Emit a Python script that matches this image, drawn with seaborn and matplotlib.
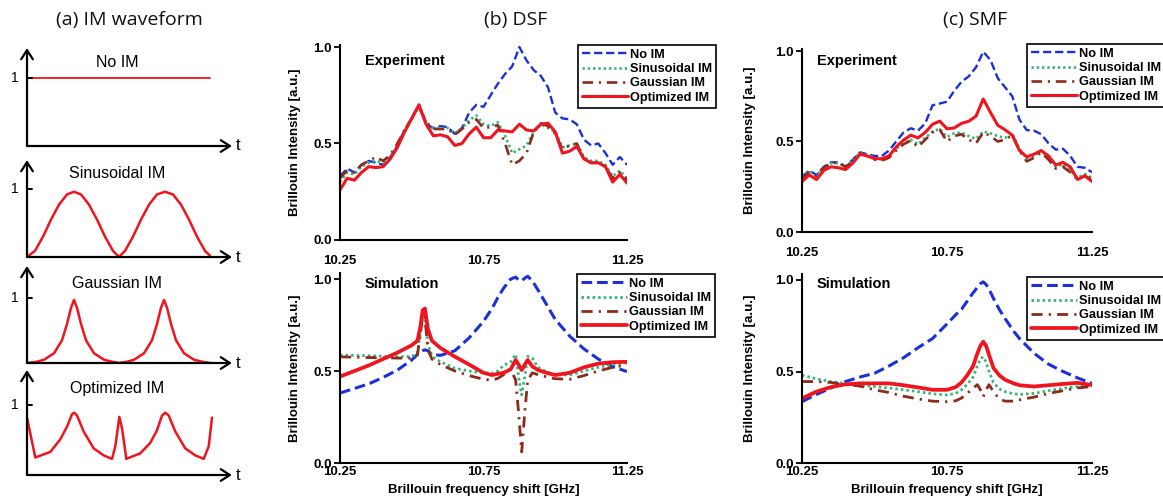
import numpy as np
import pandas as pd
import matplotlib
matplotlib.use("Agg")
import matplotlib.pyplot as plt
import seaborn as sns

sns.set_theme(style="white")
plt.rcParams["font.family"] = ["Liberation Sans", "DejaVu Sans"]
plt.rcParams["text.color"] = "black"

# ---------------- data ----------------
series_names = ["No IM", "Sinusoidal IM", "Gaussian IM", "Optimized IM"]

# (a) IM waveforms (time in arbitrary units, amplitude normalised)
wave_t_noim = [0, 183]
wave_noim = [1.0, 1.0]
wave_t_sin = [0, 8, 16, 24, 32, 40, 47, 54, 62, 70, 78, 86, 92, 98, 106, 114, 122, 130, 138, 146, 154, 162, 170, 178, 183]
wave_sin = [0.0, 0.09, 0.3, 0.55, 0.77, 0.92, 0.96, 0.92, 0.77, 0.55, 0.3, 0.09, 0.0, 0.09, 0.3, 0.55, 0.77, 0.92, 0.96, 0.92, 0.77, 0.55, 0.3, 0.09, 0.02]
wave_t_gau = [0, 10, 17, 27, 35, 40, 44, 47, 50, 54, 59, 67, 77, 85, 92, 100, 107, 117, 125, 130, 134, 137, 140, 144, 149, 157, 167, 175, 183]
wave_gau = [0.0, 0.02, 0.05, 0.15, 0.35, 0.6, 0.85, 0.97, 0.85, 0.6, 0.35, 0.15, 0.05, 0.02, 0.0, 0.02, 0.05, 0.15, 0.35, 0.6, 0.85, 0.97, 0.85, 0.6, 0.35, 0.15, 0.05, 0.02, 0.0]
wave_t_opt = [0, 8.3, 23.3, 33.3, 40, 45, 47.3, 50, 56.7, 66.7, 76.7, 85, 88.3, 92.3, 95, 99.3, 113.3, 123.3, 130, 135, 138.3, 141.7, 148.3, 158.3, 168.3, 176.7, 181.7, 185]
wave_opt = [0.82, 0.25, 0.33, 0.51, 0.69, 0.87, 0.89, 0.85, 0.62, 0.38, 0.28, 0.23, 0.41, 0.83, 0.67, 0.23, 0.31, 0.46, 0.64, 0.85, 0.89, 0.85, 0.62, 0.38, 0.28, 0.23, 0.41, 0.82]
wave_titles = ["No IM", "Sinusoidal IM", "Gaussian IM", "Optimized IM"]

x_ticks = [10.25, 10.75, 11.25]
y_ticks = [0.0, 0.5, 1.0]

# (b) DSF experiment
dsf_exp_f = [10.25, 10.275, 10.3, 10.325, 10.35, 10.375, 10.4, 10.425, 10.45, 10.475, 10.5, 10.525, 10.55, 10.575,
             10.6, 10.625, 10.65, 10.675, 10.7, 10.725, 10.75, 10.775, 10.8, 10.825, 10.85, 10.875, 10.9, 10.925,
             10.95, 10.975, 11.0, 11.025, 11.05, 11.075, 11.1, 11.125, 11.15, 11.175, 11.2, 11.225, 11.25]
dsf_exp_noim = [0.33, 0.37, 0.35, 0.39, 0.41, 0.40, 0.39, 0.43, 0.49, 0.57, 0.63, 0.70, 0.60, 0.58, 0.59, 0.585, 0.55,
                0.58, 0.66, 0.70, 0.69, 0.75, 0.81, 0.86, 0.90, 1.00, 0.93, 0.88, 0.85, 0.79, 0.66, 0.63, 0.625, 0.60,
                0.52, 0.49, 0.50, 0.45, 0.39, 0.43, 0.39]
dsf_exp_sin = [0.30, 0.35, 0.34, 0.38, 0.40, 0.41, 0.40, 0.43, 0.49, 0.57, 0.63, 0.70, 0.61, 0.575, 0.58, 0.58, 0.555,
               0.58, 0.62, 0.645, 0.60, 0.59, 0.61, 0.54, 0.45, 0.47, 0.49, 0.56, 0.60, 0.58, 0.56, 0.48, 0.49, 0.50,
               0.43, 0.41, 0.41, 0.39, 0.33, 0.36, 0.32]
dsf_exp_gau = [0.32, 0.36, 0.35, 0.39, 0.41, 0.43, 0.41, 0.44, 0.50, 0.57, 0.63, 0.69, 0.61, 0.575, 0.575, 0.575, 0.545,
               0.575, 0.61, 0.625, 0.58, 0.585, 0.595, 0.50, 0.39, 0.41, 0.45, 0.56, 0.605, 0.59, 0.55, 0.47, 0.49,
               0.50, 0.42, 0.40, 0.40, 0.38, 0.32, 0.35, 0.31]
dsf_exp_opt = [0.26, 0.32, 0.31, 0.35, 0.38, 0.375, 0.38, 0.42, 0.48, 0.56, 0.63, 0.70, 0.60, 0.54, 0.545, 0.535, 0.49,
               0.50, 0.55, 0.585, 0.53, 0.53, 0.57, 0.565, 0.56, 0.60, 0.57, 0.565, 0.60, 0.605, 0.56, 0.45, 0.46,
               0.485, 0.42, 0.40, 0.40, 0.38, 0.30, 0.34, 0.295]

# (b) DSF simulation
dsf_sim_f = [10.25, 10.3, 10.35, 10.4, 10.45, 10.5, 10.52, 10.53, 10.538, 10.546, 10.556, 10.57, 10.6, 10.65, 10.7,
             10.75, 10.78, 10.8, 10.82, 10.845, 10.862, 10.872, 10.883, 10.894, 10.904, 10.92, 10.94, 10.97, 11.0,
             11.05, 11.1, 11.15, 11.2, 11.25]
dsf_sim_noim = [0.38, 0.405, 0.43, 0.465, 0.505, 0.56, 0.59, 0.60, 0.61, 0.615, 0.61, 0.59, 0.585, 0.61, 0.68, 0.77,
                0.84, 0.90, 0.95, 1.0, 1.01, 0.995, 0.99, 1.005, 1.015, 0.99, 0.94, 0.86, 0.78, 0.69, 0.62, 0.565,
                0.523, 0.497]
dsf_sim_sin = [0.587, 0.585, 0.583, 0.58, 0.578, 0.578, 0.60, 0.70, 0.80, 0.80, 0.65, 0.58, 0.55, 0.515, 0.50, 0.49,
               0.488, 0.50, 0.53, 0.55, 0.59, 0.47, 0.37, 0.47, 0.58, 0.57, 0.52, 0.495, 0.48, 0.478, 0.50, 0.52,
               0.535, 0.545]
dsf_sim_gau = [0.577, 0.575, 0.573, 0.572, 0.57, 0.57, 0.59, 0.70, 0.80, 0.79, 0.62, 0.565, 0.535, 0.50, 0.475, 0.455,
               0.45, 0.46, 0.48, 0.51, 0.45, 0.28, 0.06, 0.28, 0.45, 0.49, 0.48, 0.468, 0.458, 0.455, 0.475, 0.50,
               0.52, 0.533]
dsf_sim_opt = [0.47, 0.50, 0.53, 0.565, 0.60, 0.64, 0.665, 0.74, 0.83, 0.84, 0.73, 0.665, 0.625, 0.578, 0.535, 0.49,
               0.478, 0.485, 0.49, 0.51, 0.56, 0.535, 0.505, 0.535, 0.56, 0.525, 0.505, 0.49, 0.478, 0.49, 0.52, 0.54,
               0.548, 0.55]

# (c) SMF experiment
smf_exp_f = dsf_exp_f
smf_exp_noim = [0.305, 0.34, 0.315, 0.36, 0.385, 0.385, 0.36, 0.40, 0.44, 0.43, 0.42, 0.42, 0.45, 0.50, 0.55, 0.573,
                0.56, 0.60, 0.70, 0.71, 0.72, 0.78, 0.83, 0.86, 0.91, 0.996, 0.95, 0.85, 0.80, 0.75, 0.62, 0.563,
                0.56, 0.54, 0.49, 0.455, 0.46, 0.42, 0.36, 0.355, 0.33]
smf_exp_sin = [0.30, 0.335, 0.31, 0.36, 0.38, 0.38, 0.36, 0.395, 0.44, 0.425, 0.41, 0.40, 0.42, 0.46, 0.49, 0.51,
               0.485, 0.52, 0.555, 0.57, 0.525, 0.545, 0.55, 0.53, 0.515, 0.555, 0.545, 0.53, 0.52, 0.545, 0.46,
               0.41, 0.42, 0.45, 0.41, 0.36, 0.375, 0.34, 0.30, 0.32, 0.30]
smf_exp_gau = [0.29, 0.33, 0.31, 0.355, 0.38, 0.385, 0.36, 0.39, 0.435, 0.42, 0.40, 0.395, 0.41, 0.45, 0.485, 0.505,
               0.47, 0.51, 0.55, 0.565, 0.50, 0.53, 0.54, 0.51, 0.49, 0.55, 0.53, 0.50, 0.51, 0.535, 0.45, 0.39,
               0.41, 0.44, 0.40, 0.35, 0.36, 0.33, 0.29, 0.31, 0.29]
smf_exp_opt = [0.278, 0.315, 0.29, 0.34, 0.36, 0.355, 0.345, 0.38, 0.43, 0.42, 0.405, 0.405, 0.42, 0.47, 0.508, 0.535,
               0.52, 0.55, 0.595, 0.613, 0.57, 0.575, 0.60, 0.612, 0.64, 0.735, 0.66, 0.59, 0.565, 0.535, 0.45,
               0.415, 0.43, 0.45, 0.42, 0.37, 0.385, 0.36, 0.29, 0.31, 0.28]

# (c) SMF simulation
smf_sim_f = [10.25, 10.3, 10.35, 10.4, 10.45, 10.5, 10.55, 10.6, 10.65, 10.7, 10.75, 10.78, 10.8, 10.82, 10.84,
             10.855, 10.865, 10.875, 10.885, 10.895, 10.91, 10.93, 10.95, 10.98, 11.0, 11.05, 11.1, 11.15, 11.2, 11.25]
smf_sim_noim = [0.335, 0.375, 0.41, 0.445, 0.47, 0.49, 0.53, 0.575, 0.63, 0.68, 0.76, 0.81, 0.84, 0.885, 0.93, 0.96,
                0.98, 0.99, 0.975, 0.95, 0.90, 0.84, 0.79, 0.72, 0.68, 0.60, 0.54, 0.50, 0.465, 0.435]
smf_sim_sin = [0.48, 0.46, 0.445, 0.435, 0.425, 0.418, 0.41, 0.40, 0.39, 0.378, 0.372, 0.38, 0.40, 0.43, 0.47, 0.53,
               0.57, 0.58, 0.55, 0.50, 0.44, 0.405, 0.39, 0.378, 0.375, 0.38, 0.395, 0.408, 0.418, 0.426]
smf_sim_gau = [0.445, 0.445, 0.44, 0.43, 0.42, 0.40, 0.385, 0.365, 0.35, 0.338, 0.335, 0.34, 0.355, 0.38, 0.41, 0.428,
               0.40, 0.363, 0.40, 0.428, 0.39, 0.35, 0.338, 0.338, 0.345, 0.36, 0.38, 0.395, 0.41, 0.418]
smf_sim_opt = [0.353, 0.39, 0.415, 0.43, 0.435, 0.435, 0.435, 0.425, 0.413, 0.40, 0.40, 0.415, 0.44, 0.48, 0.53, 0.60,
               0.64, 0.663, 0.64, 0.59, 0.52, 0.48, 0.455, 0.435, 0.425, 0.418, 0.425, 0.432, 0.438, 0.426]

# ---------------- styling ----------------
W, H = 1163, 498
C_BLUE = "#1b30d8"
C_GREEN = "#33b57a"
C_GAU = "#8e2a1a"
C_RED = "#f0141e"
styles = [
    dict(color=C_BLUE, linestyle=(0, (3.5, 1.6))),
    dict(color=C_GREEN, linestyle=(0, (0.9, 1.1))),
    dict(color=C_GAU, linestyle=(0, (4.0, 2.2, 0.8, 2.2))),
    dict(color=C_RED, linestyle="-"),
]
lw_exp = [1.7, 1.9, 1.9, 2.2]
lw_sim = [2.2, 2.0, 2.0, 2.7]

fig = plt.figure(figsize=(W / 100, H / 100), dpi=100)
fig.patch.set_facecolor("white")


def px_axes(x0, x1, y0, top_px):
    return fig.add_axes([x0 / W, (H - y0) / H, (x1 - x0) / W, (y0 - top_px) / H])


# ---------------- (a) waveforms ----------------
wave_sets = [(wave_t_noim, wave_noim), (wave_t_sin, wave_sin), (wave_t_gau, wave_gau), (wave_t_opt, wave_opt)]
wave_geom = [(146, 48, 68), (257, 160, 68), (363, 266, 65), (475, 370, 70)]  # origin, top, level-1 px
for (tt, vv), (org, top, lvl), title in zip(wave_sets, wave_geom, wave_titles):
    ax = px_axes(27, 232, org, top)
    ymax = (org - top) / lvl
    ax.set_xlim(0, 205)
    ax.set_ylim(0, ymax)
    ax.axis("off")
    sns.lineplot(x=tt, y=vv, ax=ax, color=C_RED, lw=1.8 if len(tt) > 2 else 1.3, sort=False)
    arr = dict(arrowstyle="->,head_length=0.55,head_width=0.35", lw=1.6, color="black", shrinkA=0, shrinkB=0)
    ax.annotate("", xy=(205, 0), xytext=(0, 0), arrowprops=arr, annotation_clip=False)
    ax.annotate("", xy=(0, ymax), xytext=(0, 0), arrowprops=arr, annotation_clip=False)
    ax.plot([0, 5], [1, 1], color="black", lw=1.4, clip_on=False)
    ax.text(-12, 1, "1", ha="center", va="center", fontsize=10, color="black")
    ax.text(211, 0, "t", ha="center", va="center", fontsize=12, color="black")
    ax.text(90, 1.23, title, ha="center", va="center", fontsize=11.5, color="black")

# ---------------- (b),(c) spectra ----------------
panels = [
    # x0, x1, y0(value 0 px), px per unit, ytop, freq, series, kind, legend left/top px, ylabel x
    (340, 627, 240, 193, 1.01, dsf_exp_f, [dsf_exp_noim, dsf_exp_sin, dsf_exp_gau, dsf_exp_opt], "exp", 578, 45, -0.136),
    (340, 627, 463, 184, 1.035, dsf_sim_f, [dsf_sim_noim, dsf_sim_sin, dsf_sim_gau, dsf_sim_opt], "sim", 577, 274, -0.136),
    (802, 1092, 232, 181, 1.01, smf_exp_f, [smf_exp_noim, smf_exp_sin, smf_exp_gau, smf_exp_opt], "exp", 1027, 44, -0.159),
    (802, 1092, 463, 183, 1.035, smf_sim_f, [smf_sim_noim, smf_sim_sin, smf_sim_gau, smf_sim_opt], "sim", 1027, 277, -0.159),
]
for x0, x1, y0, ppu, ytop, ff, sers, kind, lg_x, lg_y, ylab_x in panels:
    ax = px_axes(x0, x1, y0, y0 - ytop * ppu)
    lws = lw_exp if kind == "exp" else lw_sim
    for name, vals, st, lw in zip(series_names, sers, styles, lws):
        df = pd.DataFrame({"f": ff, "v": vals})
        sns.lineplot(data=df, x="f", y="v", ax=ax, label=name, lw=lw, **st)
    ax.set_xlim(10.25, 11.25)
    ax.set_ylim(0, ytop)
    ax.set_xticks(x_ticks)
    ax.set_xticklabels([f"{v:.2f}" for v in x_ticks])
    ax.set_yticks(y_ticks)
    ax.set_yticklabels([f"{v:.1f}" for v in y_ticks])
    for s in ["top", "right"]:
        ax.spines[s].set_visible(False)
    for s in ["left", "bottom"]:
        ax.spines[s].set_color("black")
        ax.spines[s].set_linewidth(1.5)
    ax.tick_params(axis="x", direction="in", length=5, width=1.3, colors="black",
                   pad=10.5 if kind == "exp" else 2.5, labelsize=9.5)
    ax.tick_params(axis="y", direction="out", length=4, width=1.3, colors="black", pad=2, labelsize=9.5, left=True)
    for lab in ax.get_xticklabels() + ax.get_yticklabels():
        lab.set_fontweight("bold")
    ax.set_ylabel("Brillouin Intensity [a.u.]", fontsize=9.5, fontweight="bold", color="black")
    ax.yaxis.set_label_coords(ylab_x, 0.5)
    if kind == "sim":
        ax.set_xlabel("Brillouin frequency shift [GHz]", fontsize=9.5, fontweight="bold", color="black")
        ax.xaxis.set_label_coords(0.5, -0.11)
    else:
        ax.set_xlabel("")
    ax.text(25 / (x1 - x0) if x0 == 340 else 15 / (x1 - x0),
            ((y0 - (61 if kind == "exp" else 283.5)) / ppu) / ytop,
            "Experiment" if kind == "exp" else "Simulation",
            transform=ax.transAxes, ha="left", va="center", fontsize=10.5, fontweight="bold", color="black")
    leg = ax.legend(loc="upper left",
                    bbox_to_anchor=((lg_x - x0) / (x1 - x0), ((y0 - lg_y) / ppu) / ytop),
                    borderaxespad=0, frameon=True, fancybox=False, framealpha=1,
                    handlelength=3.6, handletextpad=0.15, labelspacing=0.18, borderpad=0.3,
                    prop=dict(family=["Liberation Sans"], weight="bold", size=9.2))
    leg.get_frame().set_edgecolor("black")
    leg.get_frame().set_linewidth(1.2)
    for t in leg.get_texts():
        t.set_color("black")
    leg.set_zorder(10)

# ---------------- titles ----------------
for xp, txt in [(129, "(a) IM waveform"), (516, "(b) DSF"), (975, "(c) SMF")]:
    fig.text(xp / W, 1 - 20 / H, txt, ha="center", va="center", fontsize=14, color="#111111",
             family=["Open Sans", "DejaVu Sans"])

fig.savefig("out.png", dpi=100, facecolor="white")
